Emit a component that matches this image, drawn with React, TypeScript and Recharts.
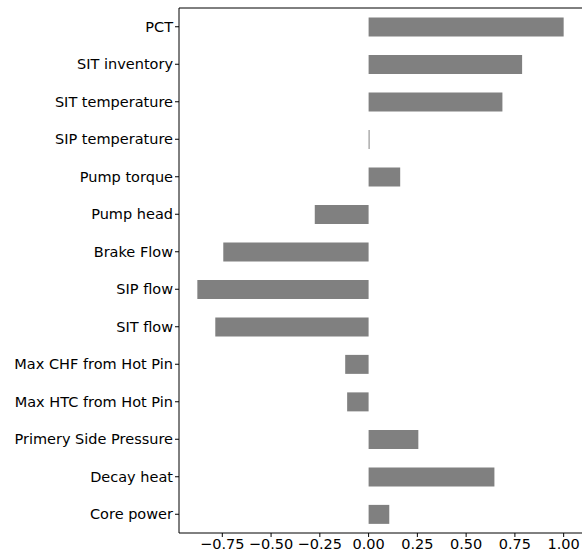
import React from 'react';
import { BarChart, Bar, XAxis, YAxis, ReferenceLine } from 'recharts';

// Feature importance values
const categories = [
  'PCT',
  'SIT inventory',
  'SIT temperature',
  'SIP temperature',
  'Pump torque',
  'Pump head',
  'Brake Flow',
  'SIP flow',
  'SIT flow',
  'Max CHF from Hot Pin',
  'Max HTC from Hot Pin',
  'Primery Side Pressure',
  'Decay heat',
  'Core power',
];
const values = [1.0, 0.787, 0.686, 0.005, 0.162, -0.276, -0.745, -0.878, -0.786, -0.12, -0.11, 0.255, 0.645, 0.106];
const xTicks = [-0.75, -0.5, -0.25, 0, 0.25, 0.5, 0.75, 1.0];
const xDomain: [number, number] = [-0.972, 1.094];

const data = categories.map((name, i) => ({ name, value: values[i] }));

const font = { fontFamily: 'DejaVu Sans', fontSize: 14.5, fill: '#000' };

const App: React.FC = () => {
  return (
    <div style={{ position: 'absolute', left: 0, top: 0, width: 582, height: 553, overflow: 'hidden', background: '#fff' }}>
      <BarChart
        width={582}
        height={553}
        data={data}
        layout="vertical"
        margin={{ top: 8, right: 0, left: 0, bottom: 0 }}
        barCategoryGap="25%"
      >
        <XAxis
          type="number"
          dataKey="value"
          domain={xDomain}
          ticks={xTicks}
          tickFormatter={(v: number) => v.toFixed(2).replace('-', '\u2212')}
          tick={font}
          tickSize={4}
          height={20}
          stroke="#000"
          allowDataOverflow
        />
        <YAxis
          type="category"
          dataKey="name"
          width={179}
          tick={font}
          tickSize={4}
          interval={0}
          stroke="#000"
        />
        {/* top spine: start edge of the first category band */}
        <ReferenceLine y={categories[0]} position="start" stroke="#000" strokeWidth={1} />
        <Bar dataKey="value" fill="#808080" isAnimationActive={false} />
      </BarChart>
    </div>
  );
};

export default App;
